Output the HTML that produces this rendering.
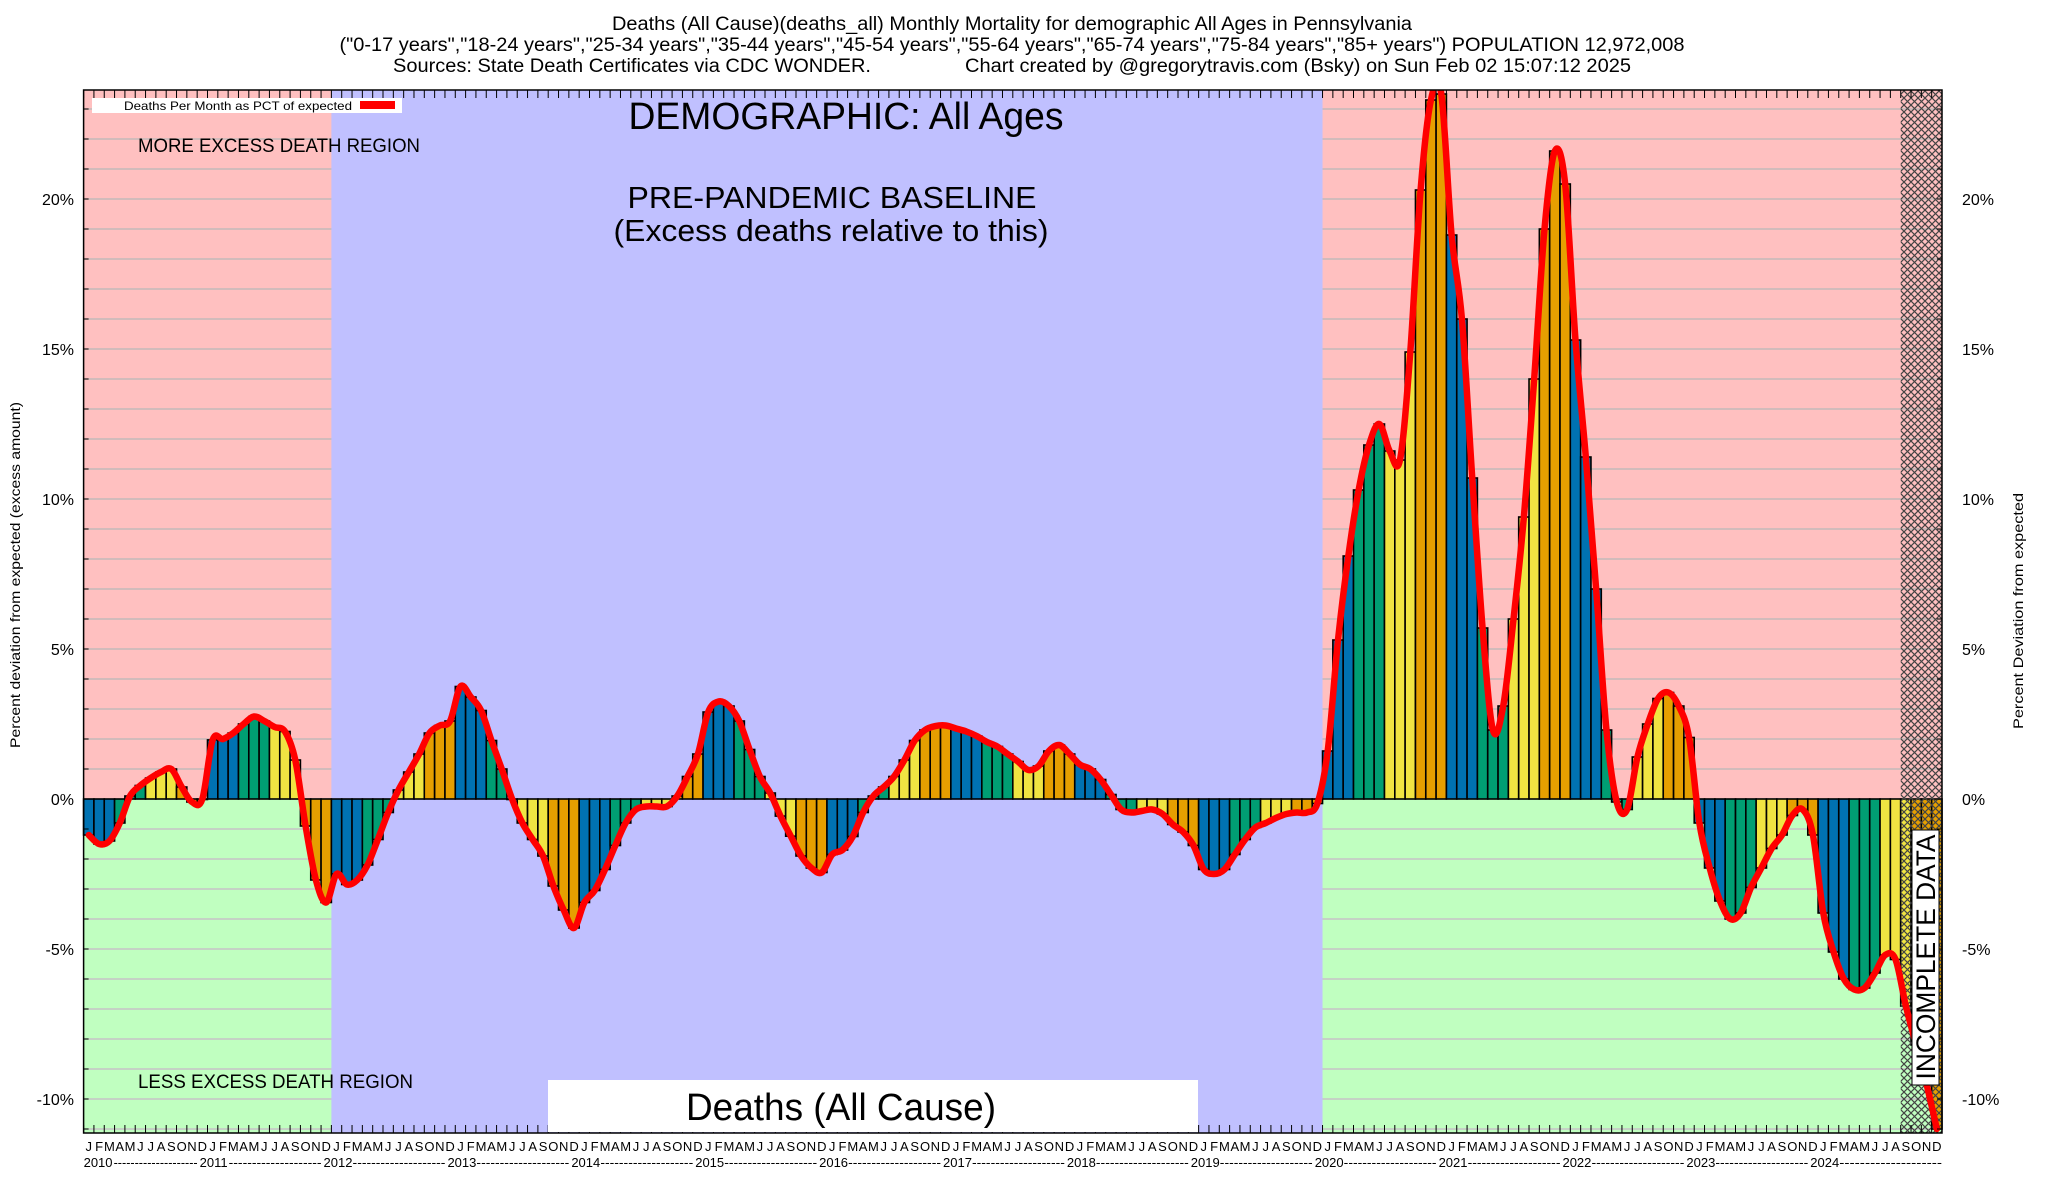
<!DOCTYPE html>
<html><head><meta charset="utf-8"><style>
html,body{margin:0;padding:0;background:#fff;}
svg{display:block;font-family:"Liberation Sans",sans-serif;}
</style></head><body>
<svg id="chart" width="2048" height="1200" viewBox="0 0 2048 1200" xmlns="http://www.w3.org/2000/svg">
<defs>
<pattern id="hatch" patternUnits="userSpaceOnUse" width="7" height="7">
<path d="M0,0 L7,7 M7,0 L0,7" stroke="#444" stroke-width="1.2"/>
</pattern>
<clipPath id="plotclip"><rect x="83.6" y="90" width="1858.4" height="1043"/></clipPath>
</defs>
<g id="bg"></g>
<g id="grid"></g>
<g id="bars"></g>
<g id="overlay"></g>
<g id="line" clip-path="url(#plotclip)"></g>
<g id="axes"></g>
<g font-size="19" text-anchor="middle" fill="#000">
<text x="1012" y="30" textLength="800" lengthAdjust="spacingAndGlyphs">Deaths (All Cause)(deaths_all) Monthly Mortality for demographic All Ages in Pennsylvania</text>
<text x="1012" y="51" textLength="1345" lengthAdjust="spacingAndGlyphs">("0-17 years","18-24 years","25-34 years","35-44 years","45-54 years","55-64 years","65-74 years","75-84 years","85+ years") POPULATION 12,972,008</text>
<text x="632" y="72" textLength="478" lengthAdjust="spacingAndGlyphs">Sources: State Death Certificates via CDC WONDER.</text>
<text x="1298" y="72" textLength="666" lengthAdjust="spacingAndGlyphs">Chart created by @gregorytravis.com (Bsky) on Sun Feb 02 15:07:12 2025</text>
</g>
<g fill="#000">
<text x="846" y="129" font-size="38" text-anchor="middle" textLength="435" lengthAdjust="spacingAndGlyphs">DEMOGRAPHIC: All Ages</text>
<text x="832" y="208" font-size="31" text-anchor="middle" textLength="409" lengthAdjust="spacingAndGlyphs">PRE-PANDEMIC BASELINE</text>
<text x="831" y="241" font-size="31" text-anchor="middle" textLength="435" lengthAdjust="spacingAndGlyphs">(Excess deaths relative to this)</text>
<text x="138" y="152" font-size="19" textLength="282" lengthAdjust="spacingAndGlyphs">MORE EXCESS DEATH REGION</text>
<text x="138" y="1088" font-size="19" textLength="275" lengthAdjust="spacingAndGlyphs">LESS EXCESS DEATH REGION</text>
<rect x="548" y="1080" width="650" height="52" fill="#fff"/>
<text x="841" y="1120" font-size="38" text-anchor="middle" textLength="310" lengthAdjust="spacingAndGlyphs">Deaths (All Cause)</text>
<rect x="92" y="98" width="310" height="15" fill="#fff"/>
<text x="124" y="110" font-size="12" textLength="228" lengthAdjust="spacingAndGlyphs">Deaths Per Month as PCT of expected</text>
<rect x="360" y="101" width="35" height="8" fill="#ff0000"/>
<text transform="translate(20,575) rotate(-90)" font-size="14" text-anchor="middle" textLength="346" lengthAdjust="spacingAndGlyphs">Percent deviation from expected (excess amount)</text>
<text transform="translate(2023,611) rotate(-90)" font-size="14" text-anchor="middle" textLength="236" lengthAdjust="spacingAndGlyphs">Percent Deviation from expected</text>
</g>
<g id="incomplete">
<rect x="1912" y="830" width="27" height="255" fill="#fff" stroke="#000" stroke-width="1"/>
<text transform="translate(1935,957) rotate(-90)" font-size="27" text-anchor="middle" textLength="245" lengthAdjust="spacingAndGlyphs">INCOMPLETE DATA</text>
</g>
</svg>
<script>
var months = ["J","F","M","A","M","J","J","A","S","O","N","D"];
var years = [2010,2011,2012,2013,2014,2015,2016,2017,2018,2019,2020,2021,2022,2023,2024];
var pctValues = [
-1.2,-1.5,-1.4,-0.8,0.1,0.45,0.7,0.9,1.0,0.4,-0.1,0.0,
1.97,2.0,2.2,2.5,2.75,2.6,2.4,2.25,1.3,-0.9,-2.7,-3.45,
-2.5,-2.85,-2.7,-2.2,-1.35,-0.45,0.3,0.9,1.5,2.2,2.45,2.6,
3.75,3.4,2.95,1.95,1.0,0.0,-0.8,-1.35,-1.9,-2.9,-3.7,-4.3,
-3.45,-3.05,-2.35,-1.55,-0.8,-0.35,-0.25,-0.25,-0.25,0.1,0.75,1.5,
2.9,3.25,3.1,2.6,1.65,0.75,0.2,-0.57,-1.24,-1.9,-2.3,-2.45,
-1.85,-1.7,-1.25,-0.45,0.1,0.4,0.75,1.3,1.95,2.3,2.43,2.45,
2.35,2.25,2.1,1.9,1.75,1.5,1.25,0.97,1.1,1.6,1.8,1.5,
1.15,1.0,0.65,0.15,-0.35,-0.45,-0.4,-0.35,-0.5,-0.85,-1.1,-1.55,
-2.35,-2.5,-2.35,-1.85,-1.35,-0.95,-0.8,-0.63,-0.5,-0.45,-0.45,-0.15,
1.6,5.3,8.1,10.3,11.8,12.5,11.6,11.3,14.9,20.3,23.3,23.5,
18.8,16.0,10.7,5.7,2.3,3.1,6.0,9.4,14.0,19.0,21.6,20.5,
15.3,11.4,7.0,2.3,-0.1,-0.35,1.4,2.5,3.35,3.55,3.1,2.05,
-0.8,-2.3,-3.4,-4.0,-3.8,-2.95,-2.3,-1.65,-1.2,-0.55,-0.35,-1.2,
-3.8,-5.1,-6.0,-6.35,-6.3,-5.8,-5.2,-5.35,-6.9,-8.2,-9.5,-11.0
];
var yTicks = [-10,-5,0,5,10,15,20];
var baselineStartMonth = 24, baselineEndMonth = 120, incompleteStartMonth = 176;

var NS="http://www.w3.org/2000/svg";
var L=83.6,R=1942,T=90,B=1133,Y0=799,PER=30.0;
var N=pctValues.length, W=(R-L)/N;
function xs(i){return L+(i+0.5)*W;}
function xe(i){return L+i*W;}
function ys(v){return Y0-v*PER;}
function mk(tag,attrs,parent){var e=document.createElementNS(NS,tag);for(var k in attrs)e.setAttribute(k,attrs[k]);parent.appendChild(e);return e;}
var bg=document.getElementById('bg'),grid=document.getElementById('grid'),bars=document.getElementById('bars'),
ov=document.getElementById('overlay'),ln=document.getElementById('line'),ax=document.getElementById('axes');

var r;
r=mk('rect',{x:L,y:T,width:R-L,height:ys(0)-T,fill:'#ffc0c0'},bg);


r=mk('rect',{x:L,y:ys(0),width:R-L,height:B-ys(0),fill:'#c0ffc0'},bg);


for(var g=-11;g<=23;g++){
  var gl=mk('line',{x1:L,x2:R,y1:ys(g),y2:ys(g),stroke:g<0?'#c8b8c8':'#b8b8b8','stroke-width':1.3},grid);
  
  
}
r=mk('rect',{x:xe(baselineStartMonth),y:T,width:xe(baselineEndMonth)-xe(baselineStartMonth),height:B-T,fill:'#c0c0ff'},grid);



var cols=['#0072b2','#009e73','#f0e442','#e69f00'];
for(var i=0;i<N;i++){
  var v=pctValues[i],y1=ys(Math.max(v,0)),y2=ys(Math.min(v,0));
  var b=mk('rect',{x:xe(i),y:y1,width:W,height:Math.max(0.5,y2-y1),fill:cols[Math.floor((i%12)/3)],stroke:'#000','stroke-width':1.6},bars);
  
  
}
r=mk('rect',{x:xe(incompleteStartMonth),y:T,width:R-xe(incompleteStartMonth),height:B-T,fill:'url(#hatch)'},ov);



var pts=[];for(var i=0;i<N;i++)pts.push([xs(i),ys(pctValues[i])]);
var d='M'+pts[0][0]+','+pts[0][1];
for(var i=0;i<N-1;i++){
  var p0=pts[Math.max(0,i-1)],p1=pts[i],p2=pts[i+1],p3=pts[Math.min(N-1,i+2)];
  var c1=[p1[0]+(p2[0]-p0[0])/6,p1[1]+(p2[1]-p0[1])/6],c2=[p2[0]-(p3[0]-p1[0])/6,p2[1]-(p3[1]-p1[1])/6];
  d+=' C'+c1[0]+','+c1[1]+' '+c2[0]+','+c2[1]+' '+p2[0]+','+p2[1];
}
var path=mk('path',{d:d,fill:'none',stroke:'#ff0000','stroke-width':6.5,'stroke-linejoin':'round','stroke-linecap':'round'},ln);



r=mk('rect',{x:L,y:T,width:R-L,height:B-T,fill:'none',stroke:'#000','stroke-width':1.5},ax);


for(var g=-11;g<=23;g++){
  mk('line',{x1:L,x2:L+5,y1:ys(g),y2:ys(g),stroke:'#000','stroke-width':1},ax);
  mk('line',{x1:R-5,x2:R,y1:ys(g),y2:ys(g),stroke:'#000','stroke-width':1},ax);
}
for(var k=0;k<yTicks.length;k++){
  var t=yTicks[k];
  var tl=mk('text',{x:74,y:ys(t)+6,'font-size':16,'text-anchor':'end'},ax);
  tl.textContent=t+'%';
  
  
  var tr=mk('text',{x:1962,y:ys(t)+6,'font-size':16},ax);
  tr.textContent=t+'%';
  
  
}
for(var i=0;i<N;i++){
  mk('line',{x1:xe(i),x2:xe(i),y1:B,y2:B-8,stroke:'#000','stroke-width':1},ax);
  mk('line',{x1:xe(i),x2:xe(i),y1:T,y2:T+8,stroke:'#000','stroke-width':1},ax);
  var ml=mk('text',{x:xs(i),y:1151,'font-size':13,'text-anchor':'middle'},ax);
  ml.textContent=months[i%12];
  
  
}
for(var k=0;k<years.length;k++){
  var jx=xs(k*12);
  var yl=mk('text',{x:(k==0?L:jx-13),y:1167,'font-size':13},ax);
  yl.textContent=years[k];
  
  
  var endX=(k<years.length-1)?xs((k+1)*12)-15:R;
  var sx=(k==0?L+30:jx+16);
  var dl=mk('text',{x:sx,y:1167,'font-size':13,textLength:Math.max(5,endX-sx),lengthAdjust:'spacingAndGlyphs'},ax);
  dl.textContent='--------------------';
  
  
}
</script>
</body></html>
